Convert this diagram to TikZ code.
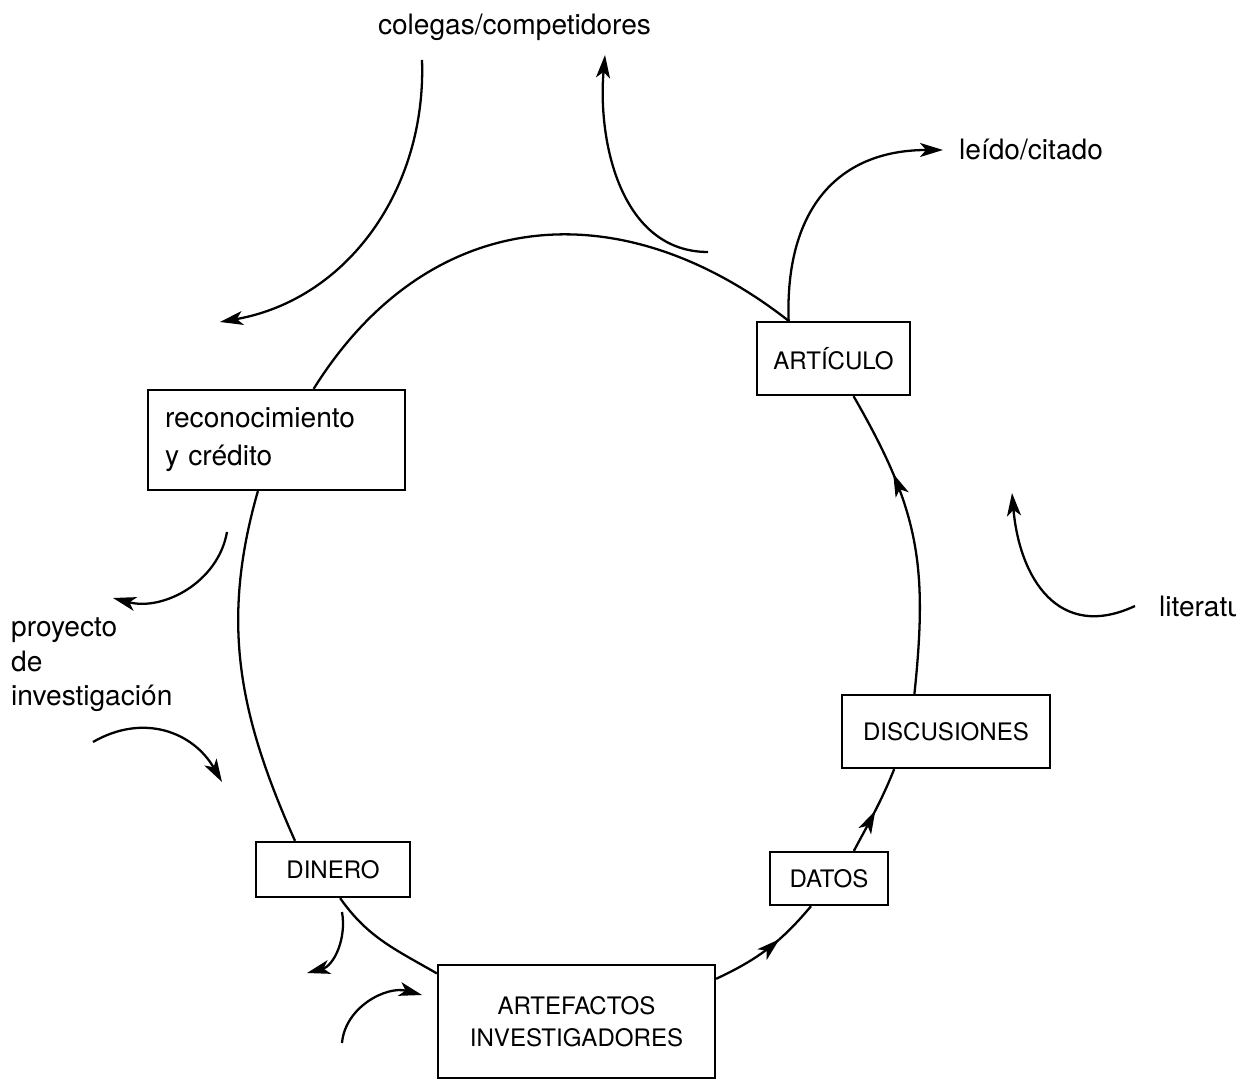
\documentclass[tikz,border=0pt]{standalone}
\usepackage{fontspec}
\setmainfont{TeX Gyre Heros}
\usetikzlibrary{arrows.meta, decorations.markings}
\tikzset{
        >={Stealth[length=4.6mm, width=2.8mm, inset=1.2mm]}, % long narrow heads as in the scan
        midarrow/.style={postaction={decorate}, decoration={markings, mark=at position #1 with {\arrow{>}}}}, % head halfway along a path
    }
\tikzstyle{box}=[draw, fill=white, inner sep=0pt, font=\fontsize{13.7}{18.2}\selectfont]
\tikzstyle{word}=[font=\fontsize{16}{19.6}\selectfont]

\begin{document}
\begin{tikzpicture}[x=0.2mm, y=0.2mm, line width=1.3pt]
    \useasboundingbox (0,0) rectangle (1236,1080);

    % stations of the cycle
    \node[box, text width=44.6mm, inner xsep=3.4mm, minimum height=20mm, align=left,
          font=\fontsize{16}{21.5}\selectfont] (rec) at (276.5,640) {reconocimiento\\y crédito};
    \node[box, minimum width=30.6mm, minimum height=14.6mm] (arti) at (833.5,721.5) {ARTÍCULO};
    \node[box, minimum width=41.6mm, minimum height=14.6mm] (dis) at (946,348.5) {DISCUSIONES};
    \node[box, minimum width=23.6mm, minimum height=10.6mm] (dat) at (829,201.5) {DATOS};
    \node[box, minimum width=30.8mm, minimum height=11mm] (din) at (333,210.5) {DINERO};
    \node[box, minimum width=55.4mm, minimum height=22.6mm, align=center] (artf) at (576.5,58.5) {ARTEFACTOS\\INVESTIGADORES};

    % the cycle itself
    \draw (arti.140) to[out=142, in=58, looseness=1.15] (rec.54);
    \draw (rec.250) to[out=254, in=114] (din.143);
    \draw (din.284) to[out=305, in=150] (artf.161);
    \draw[midarrow=0.62] (artf.17) to[out=25, in=230] (dat.237);
    \draw[midarrow=0.5] (dat.48) to[out=62, in=248] (dis.216);
    \draw[midarrow=0.72] (dis.130) to[out=84, in=300, looseness=1.1] (arti.298);

    % outside words
    \node[word] (coleg) at (514.5,1053) {colegas/competidores};
    \node[word, anchor=west, inner xsep=3mm] (leido) at (943,930) {leído/citado};
    \node[word, anchor=west, inner xsep=4.6mm] (lit) at (1135,474) {literatura};
    \node[word, anchor=west, inner sep=0pt, align=left] (proy) at (10,415) {proyecto\\de\\investigación};

    % free ends of the side arrows
    \coordinate (colegA) at (422,1020);
    \coordinate (colegB) at (220,758);
    \coordinate (backA) at (708,828);
    \coordinate (backB) at (605,1025);
    \coordinate (litB) at (1012,587);
    \coordinate (recA) at (227,548);
    \coordinate (recB) at (113,482);
    \coordinate (proyA) at (93,338);
    \coordinate (proyB) at (222,298);
    \coordinate (dinA) at (342,168);
    \coordinate (dinB) at (307,107);
    \coordinate (artfA) at (342,37);
    \coordinate (artfB) at (422,85);

    % side arrows
    \draw[->] (colegA) to[out=-88, in=10] (colegB);
    \draw[->] (backA) to[out=180, in=-95] (backB);
    \draw[->] (arti.140) to[out=92, in=180, looseness=1.2] (leido.west);
    \draw[->] (lit.west) to[out=205, in=-85, looseness=1.3] (litB);
    \draw[->] (recA) to[out=-100, in=-15] (recB);
    \draw[->] (proyA) to[out=30, in=120, looseness=1.1] (proyB);
    \draw[->] (dinA) to[out=-80, in=15] (dinB);
    \draw[->] (artfA) to[out=85, in=165] (artfB);
\end{tikzpicture}
\end{document}
